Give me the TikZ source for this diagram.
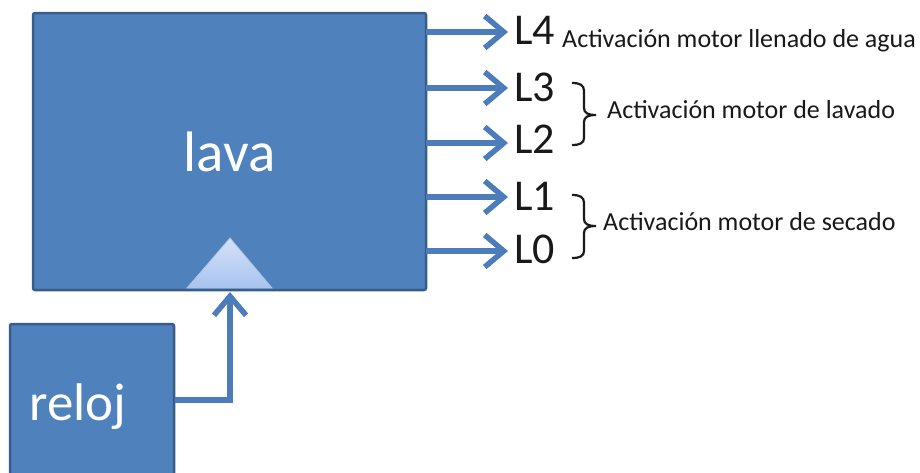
\documentclass[tikz,border=0pt]{standalone}
\usepackage{fontspec}
\setmainfont{Carlito}
\usetikzlibrary{arrows.meta,calc}
\definecolor{boxblue}{RGB}{79,129,189}
\definecolor{boxedge}{RGB}{56,93,138}
\definecolor{arrblue}{RGB}{76,125,186}
\definecolor{tritop}{RGB}{214,226,246}
\definecolor{tribot}{RGB}{168,195,240}
\tikzset{
  box/.style={draw=boxedge, fill=boxblue, line width=2.5pt, rounded corners=2pt, inner sep=0pt},
  outarrow/.style={draw=arrblue, line width=5.5pt, -{Straight Barb[length=19pt,width=32pt,line width=5.5pt]}},
  lbl/.style={font=\fontsize{44}{44}\selectfont, inner sep=0pt, anchor=west, text=black!90},
  desc/.style={font=\fontsize{26}{26}\selectfont, inner sep=0pt, anchor=base west, text=black!90},
  bracepath/.style={draw=black!90, line width=2.2pt}
}
\begin{document}
\begin{tikzpicture}[x=1pt,y=-1pt]
\useasboundingbox (0,0) rectangle (920,472);
\fill[white] (0,0) rectangle (920,472);
\clip (0,0) rectangle (920,472);

% main box
\node[box, minimum width=393pt, minimum height=277pt, text=white,
      font=\fontsize{57}{57}\selectfont] (lava) at (229.5,151.5) {lava};

% clock input triangle
\shade[top color=tritop, bottom color=tribot, draw=tritop!70!boxblue, line width=0.8pt]
  (230,238) -- (272,288) -- (187,288) -- cycle;
\coordinate (clkin) at (230,292);

% reloj box
\node[box, minimum width=164pt, minimum height=170pt] (reloj) at (92,409) {};
\node[font=\fontsize{53}{53}\selectfont, text=white, anchor=base west, inner sep=0pt]
  (relojtxt) at (29,420) {reloj};

\draw[outarrow] ([yshift=9pt]reloj.east) -| (clkin);

% outputs
\node[lbl] (L4) at (514,30) {L4};
\node[lbl] (L3) at (514,87) {L3};
\node[lbl] (L2) at (514,139) {L2};
\node[lbl] (L1) at (514,196) {L1};
\node[lbl] (L0) at (514,249) {L0};

\foreach \n/\yy in {L4/32,L3/88,L2/143,L1/197,L0/251}{
  \coordinate (s\n) at (426,\yy);
  \coordinate (e\n) at (508,\yy);
  \draw[outarrow] (s\n) -- (e\n);
}

% descriptions
\node[desc] (d4) at (562,47) {Activación motor llenado de agua};
\node[desc] (d32) at (607,118) {Activación motor de lavado};
\node[desc] (d10) at (603,230) {Activación motor de secado};

% braces
\draw[bracepath] (572,83) .. controls (580,83) and (584,85) .. (584,91) -- (584,108)
  .. controls (584,113) and (588,115) .. (596,115)
  .. controls (588,115) and (584,117) .. (584,122) -- (584,138)
  .. controls (584,143) and (580,145) .. (572,145);
\draw[bracepath] (572,195) .. controls (580,195) and (584,197) .. (584,203) -- (584,219)
  .. controls (584,224) and (588,226) .. (596,226)
  .. controls (588,226) and (584,228) .. (584,233) -- (584,251)
  .. controls (584,256) and (580,258) .. (572,258);
\end{tikzpicture}
\end{document}
